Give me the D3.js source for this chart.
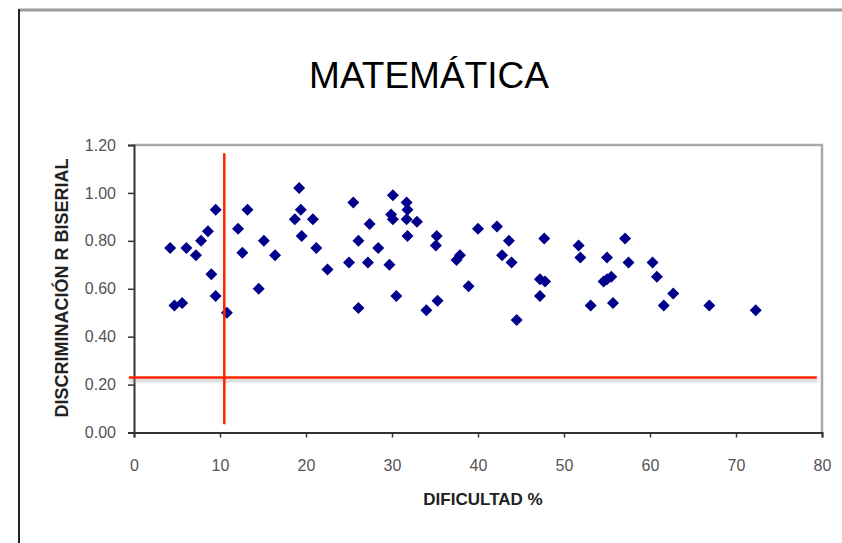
<!DOCTYPE html>
<html>
<head>
<meta charset="utf-8">
<script src="https://cdn.jsdelivr.net/npm/d3@7"></script>
<style>
  html, body { margin: 0; padding: 0; background: #fff; }
  svg { display: block; }
  text { font-family: "Liberation Sans", Arial, sans-serif; }
</style>
</head>
<body>
<svg id="chart" width="842" height="543"></svg>
<script>
// ---- data ----
const title = "MATEMÁTICA";
const xTitle = "DIFICULTAD %";
const yTitle = "DISCRIMINACIÓN R BISERIAL";
const xTicks = [0, 10, 20, 30, 40, 50, 60, 70, 80];
const yTicks = [0, 0.2, 0.4, 0.6, 0.8, 1.0, 1.2];

const difficulty = [
  4.2, 6.1, 7.2, 7.8, 8.6, 9.5, 9.0, 9.5, 4.7, 5.6,
  10.8, 12.1, 13.2, 12.6, 15.1, 16.4, 14.5, 19.2, 19.4, 18.7,
  20.8, 19.5, 21.2, 22.5, 25.0, 25.5, 26.1, 26.1, 30.1, 31.7,
  31.8, 30.1, 31.7, 32.9, 29.9, 27.4, 31.8, 28.4, 27.2, 29.7,
  35.2, 35.1, 37.5, 37.9, 40.0, 42.2, 43.6, 42.8, 43.9, 47.7,
  47.2, 47.8, 47.2, 51.7, 51.9, 30.5, 34.0, 35.3, 38.9, 44.5,
  53.1, 55.0, 57.1, 57.5, 55.7, 54.6, 55.0, 55.5, 60.3, 60.8,
  62.7, 61.6, 66.9, 72.3
];
const discrimination = [
  0.77, 0.77, 0.74, 0.80, 0.84, 0.93, 0.66, 0.57, 0.53, 0.54,
  0.50, 0.85, 0.93, 0.75, 0.80, 0.74, 0.60, 1.02, 0.93, 0.89,
  0.89, 0.82, 0.77, 0.68, 0.71, 0.96, 0.80, 0.52, 0.99, 0.96,
  0.93, 0.89, 0.89, 0.88, 0.91, 0.87, 0.82, 0.77, 0.71, 0.70,
  0.82, 0.78, 0.72, 0.74, 0.85, 0.86, 0.80, 0.74, 0.71, 0.81,
  0.64, 0.63, 0.57, 0.78, 0.73, 0.57, 0.51, 0.55, 0.61, 0.47,
  0.53, 0.73, 0.81, 0.71, 0.54, 0.63, 0.64, 0.65, 0.71, 0.65,
  0.58, 0.53, 0.53, 0.51
];

// reference lines (value coordinates)
const vLineX = 10.5, vLineY = [0.034, 1.166];
const hLineY = 0.23, hLineX = [-0.6, 79.4];

// ---- drawing ----
const svg = d3.select("#chart");
const W = 842, H = 543;
svg.append("rect").attr("width", W).attr("height", H).attr("fill", "#fff");

const defs = svg.append("defs");
defs.append("filter").attr("id", "blur").attr("filterUnits", "userSpaceOnUse")
  .attr("x", 0).attr("y", 0).attr("width", W).attr("height", H)
  .append("feGaussianBlur").attr("stdDeviation", 1.6);

// outer frame
svg.append("line").attr("x1", 19).attr("x2", W).attr("y1", 10).attr("y2", 10)
  .attr("stroke", "#9a9a9a").attr("stroke-width", 3);
svg.append("line").attr("x1", 19).attr("x2", 19).attr("y1", 9).attr("y2", H)
  .attr("stroke", "#222").attr("stroke-width", 2);

const x = d3.scaleLinear().domain([0, 80]).range([134, 822]);
const y = d3.scaleLinear().domain([0, 1.2]).range([432.5, 145]);

// title
svg.append("text").attr("x", 429).attr("y", 88).attr("text-anchor", "middle")
  .attr("font-size", 37).attr("fill", "#000").text(title);

// plot area border (top & right)
svg.append("path")
  .attr("d", `M${x(0)},${y(1.2)}H${x(80)}V${y(0)}`)
  .attr("fill", "none").attr("stroke", "#aaa").attr("stroke-width", 2.5);

// axes
const yAxis = d3.axisLeft(y).tickValues(yTicks).tickFormat(d3.format(".2f"))
  .tickSize(6).tickPadding(12);
const gy = svg.append("g").attr("transform", `translate(${x(0)},0)`).call(yAxis);
const xAxis = d3.axisBottom(x).tickValues(xTicks).tickFormat(d3.format("d"))
  .tickSize(5).tickPadding(22);
const gx = svg.append("g").attr("transform", `translate(0,${y(0)})`).call(xAxis);
[gx, gy].forEach(g => {
  g.select(".domain").attr("stroke", "#333").attr("stroke-width", 2);
  g.selectAll(".tick line").attr("stroke", "#333").attr("stroke-width", 1.5);
  g.selectAll(".tick text").attr("font-size", 16).attr("fill", "#555")
    .attr("font-family", "'Liberation Sans', Arial, sans-serif");
});

// axis titles
svg.append("text").attr("x", 483).attr("y", 505).attr("text-anchor", "middle")
  .attr("font-size", 17).attr("font-weight", "bold").attr("fill", "#222").text(xTitle);
svg.append("text").attr("transform", "translate(68,288) rotate(-90)")
  .attr("text-anchor", "middle").attr("font-size", 18).attr("font-weight", "bold")
  .attr("fill", "#222").text(yTitle);

// points
const pts = difficulty.map((d, i) => [d, discrimination[i]]);
const sym = d3.symbol().type(d3.symbolSquare).size(72);
svg.append("g").selectAll("path").data(pts).join("path")
  .attr("d", sym)
  .attr("transform", d => `translate(${x(d[0])},${y(d[1])}) rotate(45)`)
  .attr("fill", "#00008b");

// red reference lines (horizontal with soft shadow)
svg.append("line").attr("x1", x(hLineX[0]) + 1).attr("x2", x(hLineX[1]) + 1)
  .attr("y1", y(hLineY) + 3).attr("y2", y(hLineY) + 3)
  .attr("stroke", "#999").attr("stroke-opacity", 0.6).attr("stroke-width", 2.5)
  .attr("filter", "url(#blur)");
svg.append("line").attr("x1", x(hLineX[0])).attr("x2", x(hLineX[1]))
  .attr("y1", y(hLineY)).attr("y2", y(hLineY))
  .attr("stroke", "#ff2200").attr("stroke-width", 2.5);
svg.append("line").attr("x1", x(vLineX)).attr("x2", x(vLineX))
  .attr("y1", y(vLineY[0])).attr("y2", y(vLineY[1]))
  .attr("stroke", "#ff2200").attr("stroke-width", 2.5);
</script>
</body>
</html>
